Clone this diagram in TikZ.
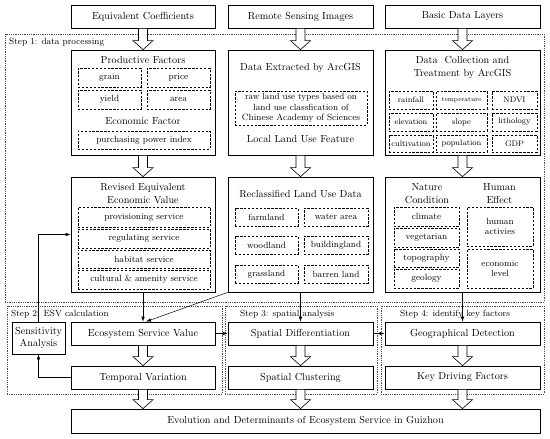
\documentclass[tikz,border=0pt]{standalone}
\usetikzlibrary{calc,arrows.meta}
\tikzset{
  main/.style={draw, line width=0.75pt, inner sep=0pt, align=center, font=\fontsize{10.2}{12}\selectfont},
  item/.style={draw, dashed, dash pattern=on 2.4pt off 1.5pt, line width=0.6pt, inner sep=0pt, align=center, font=\fontsize{9}{10.3}\selectfont},
  gitem/.style={item, font=\fontsize{8}{9.5}\selectfont},
  frame/.style={draw=black!70, densely dotted, line width=0.8pt, inner sep=0pt},
  ttl/.style={inner sep=0pt, align=center, font=\fontsize{10.2}{13}\selectfont},
  lbl/.style={inner sep=0pt, anchor=west, font=\fontsize{9}{11}\selectfont},
  conn/.style={line width=0.5pt, -{Latex[length=5pt,width=3.5pt]}},
  hollow/.style={draw, fill=white, line width=0.6pt}
}
\newcommand\boxat[7]{%
  \node[#1, minimum width={(#5)-(#3)}, minimum height={(#6)-(#4)}] (#2) at ({((#3)+(#5))/2},{((#4)+(#6))/2}) {#7};}
\newcommand\hollowarrow[2]{%
  \path[hollow] let \p1=(#1.south), \p2=(#2.north) in
    (\x1-4.5pt,\y1) -- (\x1+4.5pt,\y1) -- (\x1+4.5pt,\y2+9pt) -- (\x1+10pt,\y2+9pt)
    -- (\x1,\y2) -- (\x1-10pt,\y2+9pt) -- (\x1-4.5pt,\y2+9pt) -- cycle;}
\begin{document}
\begin{tikzpicture}[x=1pt,y=-1pt]
\useasboundingbox (0,0) rectangle (550,439);
% frames
\boxat{frame}{f1}{5}{34}{544}{302}{}
\boxat{frame}{f2}{7}{306}{222}{394}{}
\boxat{frame}{f3}{225}{306}{377}{394}{}
\boxat{frame}{f4}{381}{306}{544}{394}{}
\node[lbl] (l1) at (9,42) {Step 1: data processing};
\node[lbl] (l2) at (11,314) {Step 2: ESV calculation};
\node[lbl] (l3) at (240,314) {Step 3: spatial analysis};
\node[lbl] (l4) at (400,314) {Step 4: identify key factors};
% top row
\boxat{main}{top1}{71}{5}{215}{28}{Equivalent Coefficients}
\boxat{main}{top2}{228}{5}{373}{28}{Remote Sensing Images}
\boxat{main}{top3}{385}{5}{540}{28}{Basic Data Layers}
% row 1
\boxat{main}{pf}{71}{50}{215}{155}{}
\node[ttl] (pft) at (143,60) {Productive Factors};
\boxat{item}{grain}{78}{68}{141}{87}{grain}
\boxat{item}{price}{147}{68}{210}{87}{price}
\boxat{item}{yield}{78}{90}{141}{109}{yield}
\boxat{item}{area}{147}{90}{210}{109}{area}
\node[ttl] (eft) at (143,121) {Economic Factor};
\boxat{item}{ppi}{78}{131}{210}{149}{purchasing power index}

\boxat{main}{de}{228}{50}{373}{155}{}
\node[ttl] (det) at (300.5,68) {Data Extracted by ArcGIS};
\boxat{item}{raw}{235}{91}{367}{125}{\fontsize{8.8}{9.6}\selectfont raw land use types based on\\land use classfication of\\Chinese Academy of Sciences}
\node[ttl] (llu) at (300.5,139) {Local Land Use Feature};

\boxat{main}{dc}{385}{50}{540}{155}{}
\node[ttl] (dct) at (462.5,67) {Data\ \ Collection and\\Treatment by ArcGIS};
\boxat{gitem}{rain}{389}{91}{433}{109}{rainfall}
\boxat{gitem}{temp}{436}{91}{487}{109}{\fontsize{6.5}{7}\selectfont temperature}
\boxat{gitem}{ndvi}{492}{91}{537}{109}{NDVI}
\boxat{gitem}{elev}{389}{113}{433}{131}{elevation}
\boxat{gitem}{slope}{436}{113}{487}{131}{slope}
\boxat{gitem}{lith}{492}{113}{537}{131}{lithology}
\boxat{gitem}{cult}{389}{135}{433}{152}{cultivation}
\boxat{gitem}{popu}{436}{135}{487}{152}{population}
\boxat{gitem}{gdp}{492}{135}{537}{152}{GDP}
% row 2
\boxat{main}{rev}{71}{177}{215}{292}{}
\node[ttl] (revt) at (143,193.5) {Revised Equivalent\\Economic Value};
\boxat{item}{prov}{78}{207}{210}{227}{provisioning service}
\boxat{item}{regu}{78}{229}{210}{248}{regulating service}
\boxat{item}{habi}{78}{250}{210}{268}{habitat service}
\boxat{item}{cultu}{78}{270}{210}{289}{cultural \& amenity service}

\boxat{main}{rc}{228}{177}{373}{292}{}
\node[ttl] (rct) at (300.5,194) {Reclassified Land Use Data};
\boxat{item}{farm}{235}{208}{298}{226}{farmland}
\boxat{item}{water}{304}{208}{368}{226}{water area}
\boxat{item}{wood}{235}{236}{298}{254}{woodland}
\boxat{item}{build}{304}{236}{368}{254}{buildingland}
\boxat{item}{grass}{235}{265}{298}{283}{grassland}
\boxat{item}{barren}{304}{265}{368}{283}{barren land}

\boxat{main}{nat}{385}{177}{540}{292}{}
\node[ttl] (natt) at (427,193.5) {Nature\\Condition};
\node[ttl] (humt) at (499.5,193.5) {Human\\Effect};
\boxat{item}{clim}{394}{207}{459}{226}{climate}
\boxat{item}{vege}{394}{228}{459}{247}{vegetarian}
\boxat{item}{topo}{394}{249}{459}{267}{topography}
\boxat{item}{geol}{394}{269}{459}{288}{geology}
\boxat{item}{huma}{467}{207}{533}{246}{human\\activies}
\boxat{item}{econ}{467}{249}{533}{288}{economic\\level}
% row 3
\boxat{main}{sens}{12}{322}{65}{354}{Sensitivity\\Analysis}
\boxat{main}{esv}{71}{322}{215}{345}{Ecosystem Service Value}
\boxat{main}{tv}{71}{366}{215}{389}{Temporal Variation}
\boxat{main}{sd}{228}{322}{373}{345}{Spatial Differentiation}
\boxat{main}{scl}{228}{366}{373}{389}{Spatial Clustering}
\boxat{main}{geo}{385}{322}{540}{345}{Geographical Detection}
\boxat{main}{kdf}{385}{366}{540}{389}{Key Driving Factors}
\boxat{main}{fin}{71}{409}{540}{433}{Evolution and Determinants of Ecosystem Service in Guizhou}
% hollow arrows
\hollowarrow{top1}{pf}
\hollowarrow{top2}{de}
\hollowarrow{top3}{dc}
\hollowarrow{pf}{rev}
\hollowarrow{de}{rc}
\hollowarrow{dc}{nat}
\hollowarrow{esv}{tv}
\hollowarrow{sd}{scl}
\hollowarrow{geo}{kdf}
\hollowarrow{tv}{fin}
\hollowarrow{scl}{fin}
\hollowarrow{kdf}{fin}
% connectors
\draw[conn] (rev.south) -- (esv.north);
\draw[conn] (rc.south west) -- ([xshift=3pt]esv.north);
\draw[conn] (rc.south) -- (sd.north);
\draw[conn] (nat.south) -- (geo.north);
\draw[conn] (esv.east) -- (sd.west);
\draw[conn] (sd.east) -- (geo.west);
\draw[conn] (tv.west) -| (sens.south);
\draw[conn] (sens.north) |- (rev.west);
\end{tikzpicture}
\end{document}
